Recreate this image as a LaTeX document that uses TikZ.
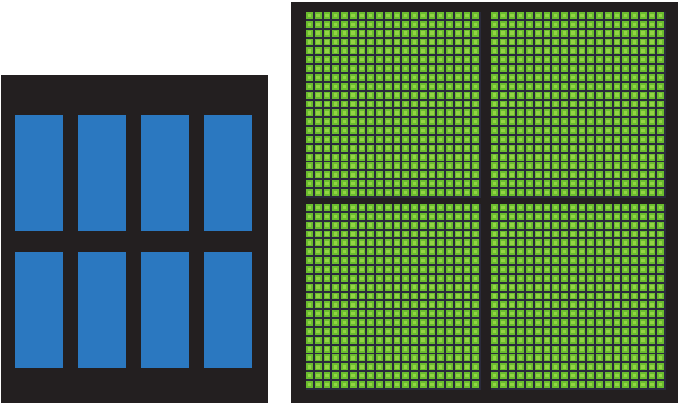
\documentclass[tikz,border=0pt]{standalone}
\usepackage{tikz}
\definecolor{chipblack}{HTML}{231F20}
\definecolor{coreblue}{HTML}{2B78C0}
\definecolor{alugreen}{HTML}{6ABD2E}
\definecolor{alulight}{HTML}{92D444}
\definecolor{gridnavy}{HTML}{2A2B3C}

\begin{document}
\begin{tikzpicture}[
    x=1pt, y=-1pt,
    chip/.style={fill=chipblack, draw=none},
    core/.style={fill=coreblue, draw=none},
    quadrant/.style={fill=gridnavy, draw=none},
    alu/.style={fill=alugreen, draw=none},
    alu_core/.style={fill=alulight, draw=none}
]
\useasboundingbox (0,0) rectangle (679,405);

% CPU die
\fill[chip] (1,75) rectangle (268,403);
\foreach \cx in {15,78,141,204} {
    \fill[core] (\cx,115) rectangle ++(48,116);
    \fill[core] (\cx,252) rectangle ++(48,116);
}

% GPU die
\fill[chip] (291,2) rectangle (678,403);
\foreach \qx/\qy in {306/12, 491/12, 306/204, 491/204} {
    \fill[quadrant] (\qx-0.5,\qy-0.5) rectangle ++(175,186);
    \foreach \i in {0,...,19} {
        \foreach \j in {0,...,20} {
            \fill[alu] (\qx+\i*8.75,\qy+\j*8.85) rectangle ++(6.8,6.9);
            \fill[alu_core] (\qx+\i*8.75+1.7,\qy+\j*8.85+1.7) rectangle ++(3.4,3.5);
        }
    }
}

\end{tikzpicture}
\end{document}
